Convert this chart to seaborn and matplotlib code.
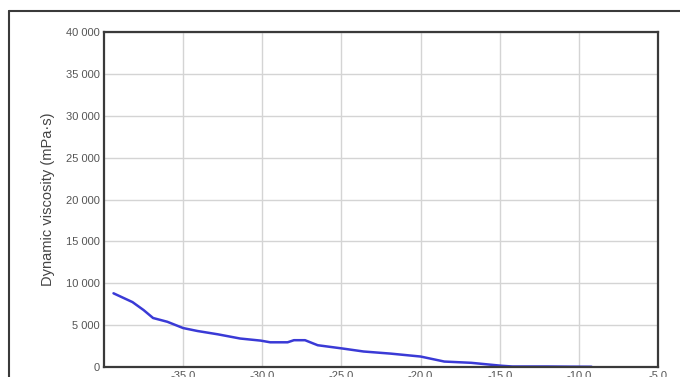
import matplotlib
matplotlib.use("Agg")
import matplotlib.pyplot as plt
from matplotlib.ticker import FuncFormatter
from matplotlib.lines import Line2D
import seaborn as sns
import pandas as pd

# Temperature (°C) and measured dynamic viscosity (mPa·s)
temperature = [-39.4, -38.2, -37.5, -36.9, -36.0, -35.0, -34.1, -32.8, -31.4,
               -30.1, -29.5, -28.4, -28.0, -27.3, -26.5, -24.9, -23.6, -21.9,
               -20.0, -18.5, -16.8, -14.9, -14.2, -12.0, -10.5, -9.2]
viscosity = [8800, 7750, 6800, 5850, 5400, 4650, 4300, 3900, 3400,
             3150, 2950, 2950, 3200, 3200, 2600, 2200, 1850, 1600,
             1250, 650, 500, 150, 60, 60, 40, 30]

x_ticks = [-35, -30, -25, -20, -15, -10, -5]
y_ticks = [0, 5000, 10000, 15000, 20000, 25000, 30000, 35000, 40000]

df = pd.DataFrame({"T": temperature, "eta": viscosity})

sns.set_theme(style="white")
plt.rcParams["font.family"] = ["Liberation Sans", "DejaVu Sans"]

fig = plt.figure(figsize=(6.8, 3.77), dpi=100)
ax = fig.add_axes([104 / 680, 1 - 367 / 377, (658 - 104) / 680, (367 - 32) / 377])

sns.lineplot(data=df, x="T", y="eta", ax=ax, color="#3a3ad6", linewidth=1.8,
             estimator=None, sort=False)

ax.set_xlim(-40, -5)
ax.set_ylim(0, 40000)
ax.set_xticks(x_ticks)
ax.set_yticks(y_ticks)
ax.xaxis.set_major_formatter(FuncFormatter(lambda v, p: f"{v:.1f}"))
ax.yaxis.set_major_formatter(
    FuncFormatter(lambda v, p: f"{int(v):,}".replace(",", " ")))

ax.grid(True, color="#d4d4d4", linewidth=1.0)
ax.tick_params(axis="both", direction="in", length=5, width=1.2,
               color="#333333", labelsize=8, labelcolor="#555555", pad=3)
for s in ax.spines.values():
    s.set_color("#3a3a3a")
    s.set_linewidth(1.6)

ax.set_xlabel("")
ax.set_ylabel("Dynamic viscosity (mPa·s)", fontsize=10.5, color="#444444",
              labelpad=8)

# Outer frame around the chart (runs off the right and bottom edges)
fx = 8.5 / 680
fy = 1 - 10.5 / 377
fig.add_artist(Line2D([fx, fx], [0, fy], transform=fig.transFigure,
                      color="#3a3a3a", linewidth=1.5))
fig.add_artist(Line2D([fx, 1], [fy, fy], transform=fig.transFigure,
                      color="#3a3a3a", linewidth=1.5))

fig.savefig("out.png", dpi=100)
